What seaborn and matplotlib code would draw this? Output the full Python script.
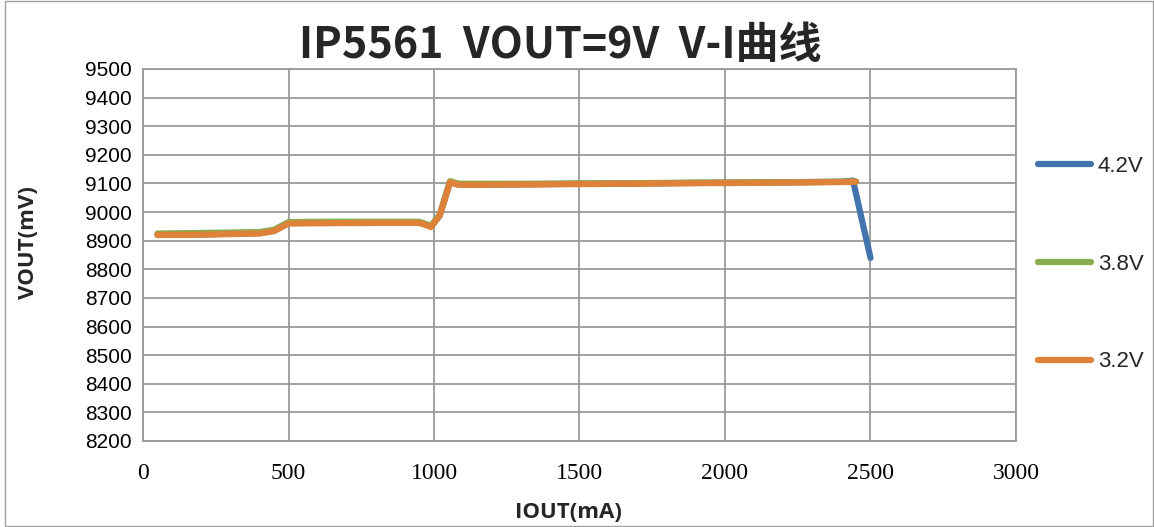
"""IP5561 VOUT=9V V-I curve, redrawn with seaborn."""
import matplotlib
matplotlib.use("Agg")
import matplotlib.pyplot as plt
import numpy as np
import pandas as pd
import seaborn as sns

# load current (mA) and output voltage (mV) per battery voltage
iout_42 = [50, 200, 400, 450, 500, 600, 800, 950, 990, 1020, 1055, 1080, 1100,
           1300, 1500, 1700, 1900, 2100, 2300, 2400, 2440, 2500]
vout_42 = [8920, 8922, 8927, 8935, 8962, 8963, 8964, 8964, 8950, 8990, 9105, 9098, 9096,
           9097, 9099, 9100, 9102, 9103, 9105, 9106, 9110, 8840]

iout_38 = [50, 200, 400, 450, 500, 600, 800, 950, 990, 1020, 1055, 1080, 1100,
           1300, 1500, 1700, 1900, 2100, 2300, 2400, 2450]
vout_38 = [8925, 8927, 8930, 8938, 8965, 8966, 8966, 8966, 8952, 8992, 9108, 9100, 9099,
           9099, 9100, 9101, 9103, 9104, 9105, 9106, 9107]

iout_32 = [50, 200, 400, 450, 500, 600, 800, 950, 990, 1020, 1055, 1080, 1100,
           1300, 1500, 1700, 1900, 2100, 2300, 2400, 2450]
vout_32 = [8920, 8921, 8925, 8933, 8960, 8961, 8962, 8962, 8948, 8988, 9104, 9096, 9095,
           9096, 9098, 9099, 9101, 9102, 9104, 9105, 9106]

series = ["4.2V", "3.8V", "3.2V"]
colors = ["#4474AE", "#88AC4E", "#DE8139"]

x_ticks = [0, 500, 1000, 1500, 2000, 2500, 3000]
y_ticks = list(range(8200, 9501, 100))

frames = []
for name, xs, ys in zip(series, [iout_42, iout_38, iout_32], [vout_42, vout_38, vout_32]):
    frames.append(pd.DataFrame({"IOUT": xs, "VOUT": ys, "bat": name}))
df = pd.concat(frames, ignore_index=True)

sns.set_theme(style="white")
plt.rcParams["font.family"] = ["Liberation Sans", "DejaVu Sans"]

W, H = 1154, 527
fig = plt.figure(figsize=(W / 100, H / 100), dpi=100)
ax = fig.add_axes([143 / W, 1 - 441 / H, (1016 - 143) / W, (441 - 69) / H])

sns.lineplot(data=df, x="IOUT", y="VOUT", hue="bat", hue_order=series,
             palette=colors, linewidth=4.5, sort=False, estimator=None,
             ax=ax, solid_capstyle="round")

ax.set_xlim(0, 3000)
ax.set_ylim(8200, 9500)
ax.set_xticks(x_ticks)
ax.set_yticks(y_ticks)
ax.set_xticklabels([str(t) for t in x_ticks], family="Liberation Serif", fontsize=17)
ax.set_yticklabels([str(t) for t in y_ticks], fontsize=15)
ax.grid(True, color="#9A9A9A", linewidth=1.3)
ax.set_axisbelow(True)
for sp in ax.spines.values():
    sp.set_color("#9A9A9A")
    sp.set_linewidth(1.3)
ax.tick_params(axis="both", length=4, color="#9A9A9A", width=1.3, direction="out",
               colors="black", pad=4)
ax.tick_params(axis="x", pad=12)
ax.set_xlabel("")
ax.set_ylabel("")

lab_font = ["Open Sans", "DejaVu Sans"]
fig.text(568 / W, 1 - 513 / H, "IOUT(mA)", ha="center", va="center",
         fontsize=16, fontweight="bold", family=lab_font)
fig.text(28 / W, 1 - 243 / H, "VOUT(mV)", ha="center", va="center", rotation=90,
         fontsize=16, fontweight="bold", family=lab_font)

fig.text(560 / W, 1 - 45 / H, "IP5561  VOUT=9V  V-I曲线", ha="center", va="center",
         fontsize=31, fontweight="bold", family=["Noto Sans CJK SC", "DejaVu Sans"])

leg = ax.legend(loc="upper left", bbox_to_anchor=(1.015, 0.79), frameon=False,
                fontsize=16, handlelength=2.4, handletextpad=0.3, labelspacing=3.45,
                borderaxespad=0)
for ln in leg.get_lines():
    ln.set_linewidth(4.5)
    ln.set_solid_capstyle("round")

# outer chart border
fig.add_artist(plt.Rectangle((5 / W, 0.001), 1 - 6 / W, 0.997, transform=fig.transFigure,
                             fill=False, edgecolor="#A0A0A0", linewidth=1))

fig.savefig("out.png", dpi=100)
